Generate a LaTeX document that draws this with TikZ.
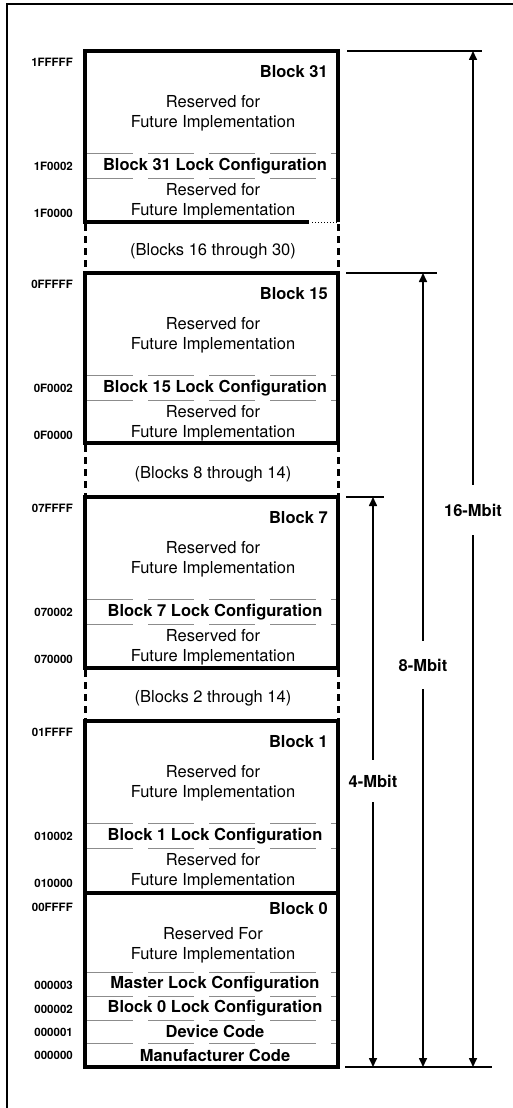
\documentclass[tikz,border=0pt]{standalone}
\usepackage{fontspec}
\setmainfont{TeX Gyre Heros}
\usetikzlibrary{arrows.meta}
\begin{document}
\begin{tikzpicture}[x=1pt,y=-1pt,
  blk/.style={line width=3.4pt},
  gapside/.style={line width=3pt, dash pattern=on 7pt off 5pt},
  sepline/.style={draw=black!45, line width=0.8pt, dash pattern=on 46pt off 15pt},
  framel/.style={line width=1.6pt},
  body/.style={font=\fontsize{16.5}{20}\selectfont, align=center, inner sep=0pt},
  titl/.style={font=\bfseries\fontsize{16.5}{20}\selectfont, anchor=east, inner sep=0pt},
  lockl/.style={font=\bfseries\fontsize{16.5}{20}\selectfont, inner sep=0pt},
  addr/.style={font=\bfseries\fontsize{11.5}{12}\selectfont, anchor=east, inner sep=0pt},
  dimline/.style={line width=1.6pt},
  dimtip/.style={-{Triangle[width=8pt,length=9pt]}},
  mbit/.style={font=\bfseries\fontsize{16.5}{20}\selectfont, inner sep=0pt},
]
\useasboundingbox (0,0) rectangle (513,1108);
% outer frame
\coordinate (fbl) at (7,1108);
\coordinate (ftl) at (7,4);
\coordinate (ftr) at (513,4);
\draw[framel] (fbl) -- (ftl) -- (ftr);

% upper blocks
\draw[blk] (85,222) -- (85,51) -- (338,51) -- (338,222);
\draw[blk] (83.3,222) -- (309,222);
\draw[line width=1pt, dotted] (312,222) -- (338,222);
\draw[blk] (85,273) rectangle (338,443);
\draw[blk] (85,497) rectangle (338,668);
\draw[blk] (85,721) rectangle (338,893);
\draw[blk] (85,893) rectangle (338,1067);

\foreach \T/\n/\ta/\la/\ba/\nm in {51/31/1FFFFF/1F0002/1F0000/a, 273/15/0FFFFF/0F0002/0F0000/b, 497/7/07FFFF/070002/070000/c, 721/1/01FFFF/010002/010000/d}{
  \node[titl] (ttl\nm) at (328,\T+21) {Block \n};
  \node[addr] (ta\nm) at (73,\T+11) {\ta};
  \node[body] (ra\nm) at (213,\T+62) {Reserved for\\Future Implementation};
  \draw[sepline] (87,\T+102) -- (336,\T+102);
  \node[lockl] (lk\nm) at (215,\T+115) {Block \n\ Lock Configuration};
  \draw[sepline] (87,\T+127) -- (336,\T+127);
  \node[body] (rb\nm) at (213,\T+150) {Reserved for\\Future Implementation};
  \node[addr] (la\nm) at (73,\T+115) {\la};
  \node[addr] (ba\nm) at (73,\T+162) {\ba};
}

% gaps
\foreach \ya/\yb/\txt/\nm in {222/273/16 through 30/ga, 443/497/8 through 14/gb, 668/721/2 through 14/gc}{
  \draw[gapside] (85,\ya+2) -- (85,\yb-2);
  \draw[gapside] (338,\ya+2) -- (338,\yb-2);
  \node[body] (\nm) at (213,{(\ya+\yb)/2+4}) {(Blocks \txt)};
}

% block 0
\node[titl] (ttle) at (328,909) {Block 0};
\node[addr] (tae) at (73,907) {00FFFF};
\node[body] (rae) at (213,945) {Reserved For\\Future Implementation};
\foreach \y in {972,996,1020,1043}{
  \draw[sepline] (87,\y) -- (336,\y);
}
\node[lockl] (mlk) at (215,984) {Master Lock Configuration};
\node[lockl] (b0lk) at (215,1008) {Block 0 Lock Configuration};
\node[lockl] (dev) at (215,1031) {Device Code};
\node[lockl] (man) at (215,1055) {Manufacturer Code};
\node[addr] (a3) at (73,985) {000003};
\node[addr] (a2) at (73,1009) {000002};
\node[addr] (a1) at (73,1032) {000001};
\node[addr] (a0) at (73,1055) {000000};

% dimension lines
\coordinate (h16a) at (347,51);  \coordinate (h16b) at (482,51);
\coordinate (h8a) at (346,273);  \coordinate (h8b) at (437,273);
\coordinate (h4a) at (346,497);  \coordinate (h4b) at (384,497);
\coordinate (hba) at (345,1067); \coordinate (hbb) at (492,1067);
\draw[dimline] (h16a) -- (h16b);
\draw[dimline] (h8a) -- (h8b);
\draw[dimline] (h4a) -- (h4b);
\draw[line width=2.4pt] (hba) -- (hbb);

\coordinate (t16) at (473,51);  \coordinate (b16) at (473,1067);
\coordinate (t8) at (423,273);  \coordinate (b8) at (423,1067);
\coordinate (t4) at (373,497);  \coordinate (b4) at (373,1067);

\node[mbit, minimum height=50pt] (m16) at (473,510) {16-Mbit};
\node[mbit, minimum height=48pt] (m8) at (423,665) {8-Mbit};
\node[mbit, minimum height=42pt] (m4) at (373,781) {4-Mbit};

\draw[dimline,dimtip] (m16.north) -- (t16);
\draw[dimline,dimtip] (m16.south) -- (b16);
\draw[dimline,dimtip] (m8.north) -- (t8);
\draw[dimline,dimtip] (m8.south) -- (b8);
\draw[dimline,dimtip] (m4.north) -- (t4);
\draw[dimline,dimtip] (m4.south) -- (b4);
\end{tikzpicture}
\end{document}
